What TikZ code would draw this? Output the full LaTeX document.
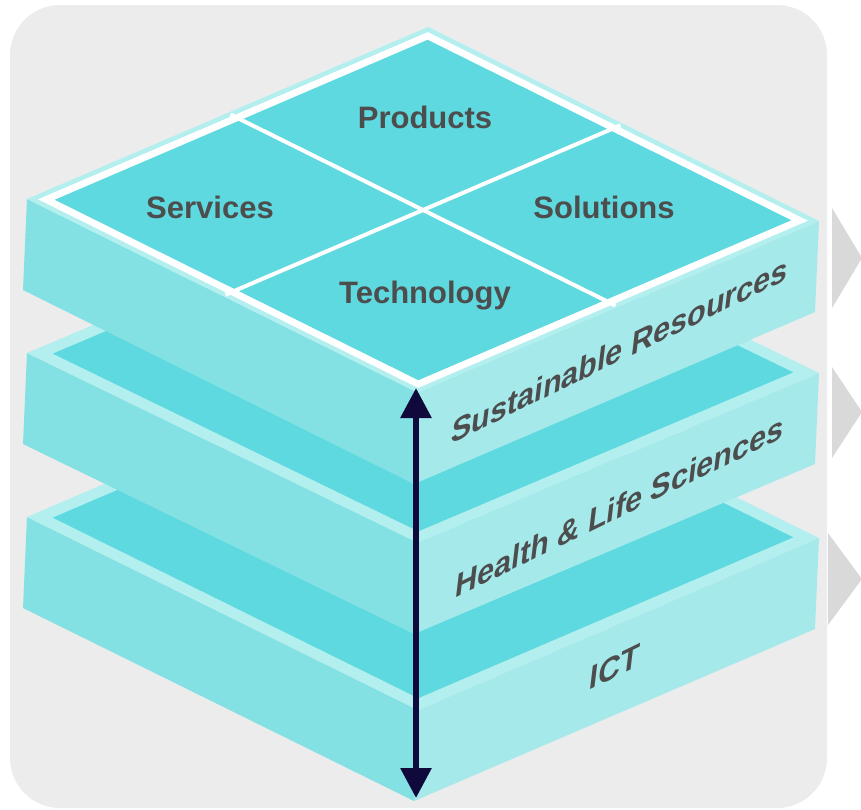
\documentclass[tikz,border=0pt]{standalone}
\usepackage{fontspec}
\setmainfont{Liberation Sans}
\usetikzlibrary{arrows.meta,calc}
\definecolor{bgc}{HTML}{ECECEC}
\definecolor{chevc}{HTML}{D9D9D9}
\definecolor{topc}{HTML}{5DD9DF}
\definecolor{leftc}{HTML}{84E1E3}
\definecolor{rightc}{HTML}{A5E9EB}
\definecolor{rimc}{HTML}{B3EFEF}
\definecolor{arrc}{HTML}{100A3C}
\definecolor{txtc}{HTML}{4D4D4D}
\newcommand\drawslab[4]{%
  \coordinate (#1L) at (27,#2);
  \coordinate (#1F) at (418,#3);
  \coordinate (#1R) at (819,#4);
  \coordinate (#1T) at ($(#1L)+(#1R)-(#1F)$);
  \coordinate (#1C) at ($(#1L)!0.5!(#1R)$);
  \fill[leftc] (#1L) -- (#1F) -- ($(#1F)+(-4,91)$) -- ($(#1L)+(-4,91)$) -- cycle;
  \fill[rightc] (#1F) -- (#1R) -- ($(#1R)+(-4,91)$) -- ($(#1F)+(-4,91)$) -- cycle;
  \fill[rimc] (#1T) -- (#1R) -- (#1F) -- (#1L) -- cycle;
}
\begin{document}
\begin{tikzpicture}[x=1pt,y=-1pt,
  toplbl/.style={font=\fontsize{31}{31}\selectfont\bfseries, text=txtc, inner sep=0pt, anchor=base},
  sidelbl/.style={font=\fontsize{34}{34}\selectfont\bfseries, text=txtc, inner sep=0pt, transform shape},
  dbl/.style={draw=arrc, line width=6pt, {Triangle[length=30pt,width=30pt]}-{Triangle[length=30pt,width=30pt]}}]
\useasboundingbox (0,0) rectangle (861,809);
\fill[bgc, rounded corners=50pt] (10,5) rectangle (827,808);
% chevrons
\fill[chevc] (832,208) -- (862,258) -- (832,308) -- cycle;
\fill[chevc] (832,367) -- (862,412) -- (832,458) -- cycle;
\fill[chevc] (828,533) -- (862,579) -- (828,625) -- cycle;
% slabs bottom to top
\drawslab{b}{517}{710}{538}
\fill[topc] ($(bC)!0.935!(bT)$) -- ($(bC)!0.935!(bR)$) -- ($(bC)!0.935!(bF)$) -- ($(bC)!0.935!(bL)$) -- cycle;
\drawslab{m}{353}{543}{373}
\fill[topc] ($(mC)!0.935!(mT)$) -- ($(mC)!0.935!(mR)$) -- ($(mC)!0.935!(mF)$) -- ($(mC)!0.935!(mL)$) -- cycle;
\drawslab{t}{199}{393}{221}
\fill[white] ($(tC)!0.972!(tT)$) -- ($(tC)!0.972!(tR)$) -- ($(tC)!0.972!(tF)$) -- ($(tC)!0.972!(tL)$) -- cycle;
\fill[topc] ($(tC)!0.93!(tT)$) -- ($(tC)!0.93!(tR)$) -- ($(tC)!0.93!(tF)$) -- ($(tC)!0.93!(tL)$) -- cycle;
\coordinate (mTL) at ($(tT)!0.5!(tL)$);
\coordinate (mRF) at ($(tR)!0.5!(tF)$);
\coordinate (mTR) at ($(tT)!0.5!(tR)$);
\coordinate (mLF) at ($(tL)!0.5!(tF)$);
\draw[white, line width=4pt] ($(tC)!0.985!(mTL)$) -- ($(tC)!0.985!(mRF)$);
\draw[white, line width=4pt] ($(tC)!0.985!(mTR)$) -- ($(tC)!0.985!(mLF)$);
% top labels
\node[toplbl] (products) at (425,128) {Products};
\node[toplbl] (services) at (210,218) {Services};
\node[toplbl] (solutions) at (604,218) {Solutions};
\node[toplbl] (technology) at (425,303) {Technology};
% side labels
\begin{scope}[cm={0.8988,0.4384,0.12,1,(620,350)}]
  \node[sidelbl] (sust) at (0,0) {Sustainable Resources};
\end{scope}
\begin{scope}[cm={0.8988,0.4384,0.12,1,(620,506)}]
  \node[sidelbl] (health) at (0,0) {Health \& Life Sciences};
\end{scope}
\begin{scope}[cm={0.8988,0.4384,0.12,1,(615,667)}]
  \node[sidelbl] (ict) at (0,0) {ICT};
\end{scope}
% arrow
\coordinate (atop) at (416,388);
\coordinate (abot) at (416,798);
\draw[dbl] (atop) -- (abot);
\end{tikzpicture}
\end{document}
